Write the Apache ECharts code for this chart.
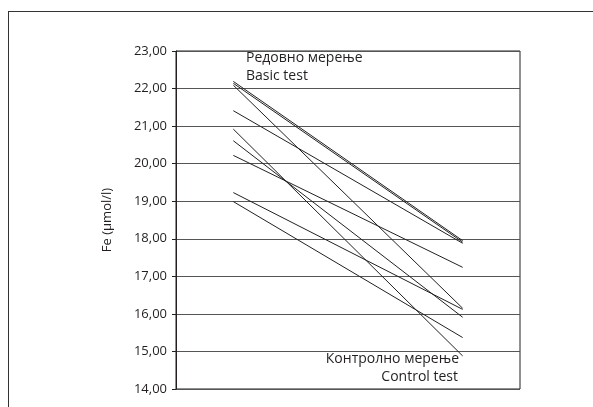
<!DOCTYPE html>
<html>
<head>
<meta charset="utf-8"/>
<title>Fe</title>
<script type="text/javascript" src="https://cdn.jsdelivr.net/npm/echarts@6/dist/echarts.min.js"></script>
<style type="text/css">
	body{ margin:0; padding:0; background:#fff; }
	#frame{ position:absolute; left:8px; top:11px; width:600px; height:410px; border:1px solid #333; border-right:none; border-bottom:none; }
	#chart{ position:absolute; left:0; top:0; width:593px; height:407px; }
</style>
</head>
<body>
<div id="frame"></div>
<div id="chart"></div>
<script type="text/javascript">
	// измерења: редовно -> контролно
	var categories = ['Редовно мерење', '', 'Контролно мерење'];
	var basicValues = [22.19, 22.14, 22.09, 21.41, 20.92, 20.61, 20.22, 19.23, 18.99];
	var controlValues = [17.95, 17.91, 16.15, 17.88, 14.88, 15.91, 17.24, 16.12, 15.37];
	var yTicks = [14, 15, 16, 17, 18, 19, 20, 21, 22, 23];

	var series = [];
	for (var i = 0; i < basicValues.length; i++) {
		series.push({
			type: 'line',
			data: [basicValues[i], null, controlValues[i]],
			connectNulls: true,
			symbol: 'none',
			silent: true,
			lineStyle: { color: '#231f20', width: 1 }
		});
	}

	var txt = { font: '14px "Open Sans"', fill: '#231f20' };

	var chart = echarts.init(document.getElementById('chart'));
	chart.setOption({
		animation: false,
		grid: { left: 176, top: 51, right: 73, bottom: 18, show: true, borderColor: '#231f20', borderWidth: 1 },
		xAxis: {
			type: 'category',
			data: categories,
			boundaryGap: true,
			axisLine: { show: false },
			axisTick: { show: false },
			axisLabel: { show: false }
		},
		yAxis: {
			type: 'value',
			min: yTicks[0],
			max: yTicks[yTicks.length - 1],
			interval: 1,
			name: 'Fe (µmol/l)',
			nameLocation: 'middle',
			nameGap: 62,
			nameTextStyle: { fontFamily: 'Open Sans', fontSize: 13, color: '#231f20' },
			axisLine: { show: true, lineStyle: { color: '#231f20', width: 1 } },
			axisTick: { show: true, length: 4, lineStyle: { color: '#231f20' } },
			axisLabel: {
				fontFamily: 'Open Sans', fontSize: 13, color: '#231f20', margin: 9,
				formatter: function (v) { return v.toFixed(2).replace('.', ','); }
			},
			splitLine: { show: true, lineStyle: { color: '#555', width: 1 } }
		},
		graphic: [
			{ type: 'text', left: 246, top: 51, style: { text: 'Редовно мерење', font: txt.font, fill: txt.fill } },
			{ type: 'text', left: 246, top: 69, style: { text: 'Basic test', font: txt.font, fill: txt.fill } },
			{ type: 'text', right: 134, top: 352, style: { text: 'Контролно мерење', font: txt.font, fill: txt.fill } },
			{ type: 'text', right: 135, top: 370, style: { text: 'Control test', font: txt.font, fill: txt.fill } }
		],
		series: series
	});
</script>
</body>
</html>
